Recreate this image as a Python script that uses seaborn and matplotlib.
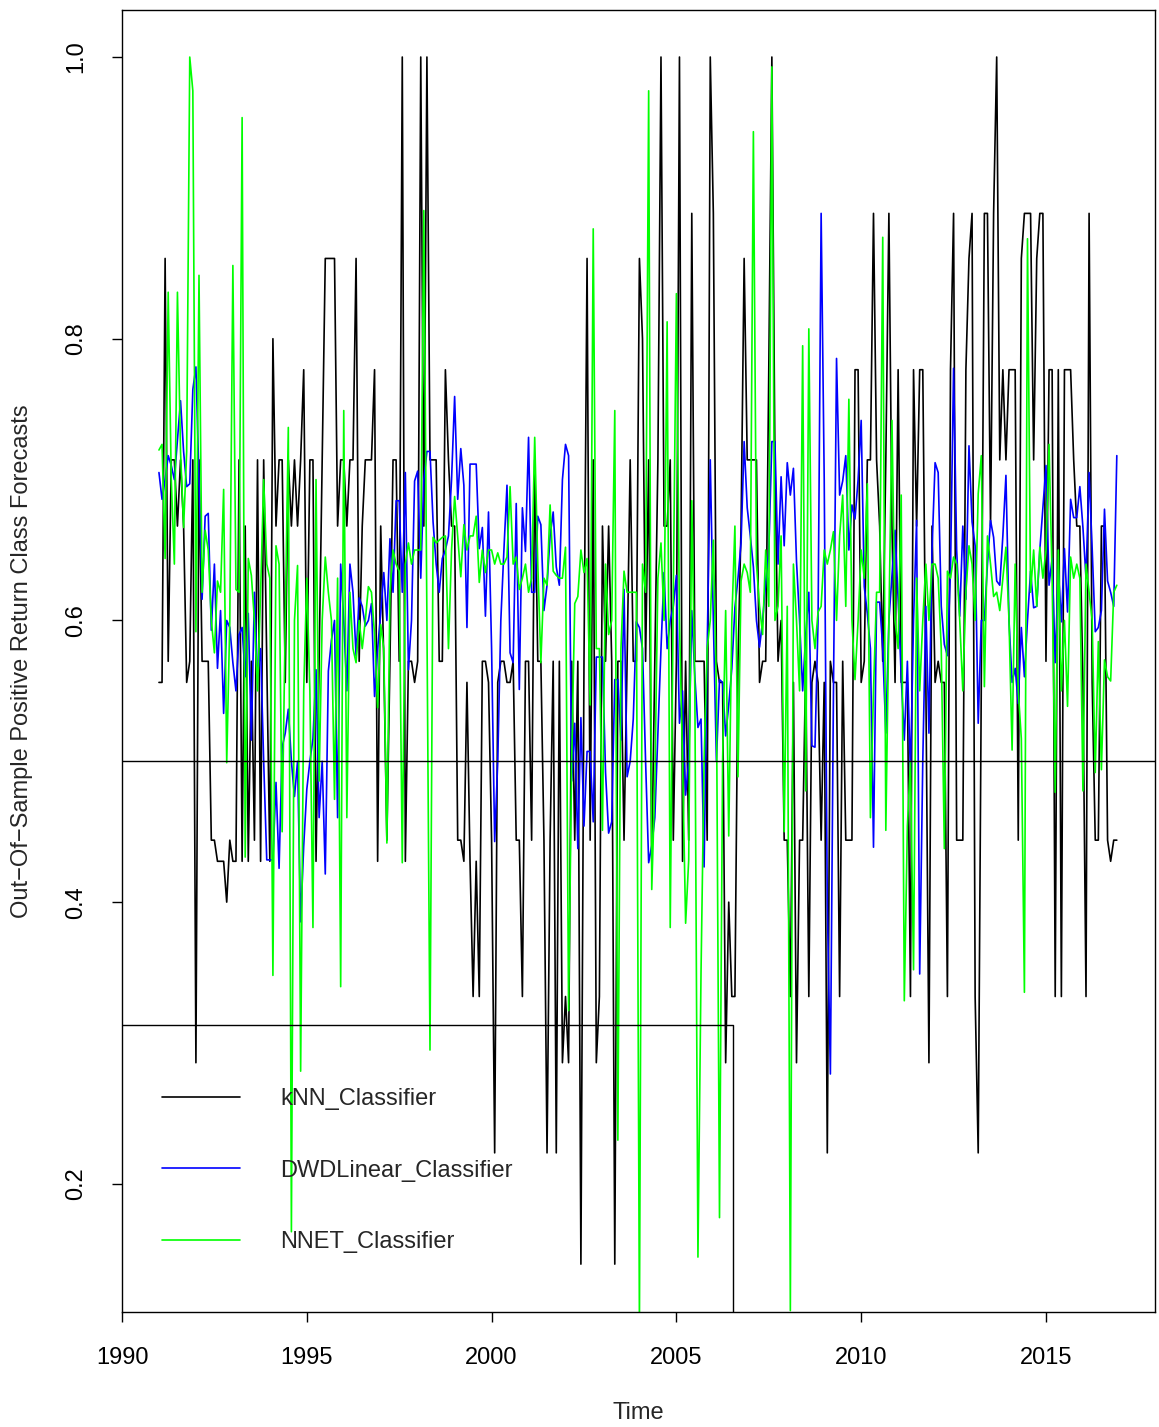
import numpy as np
import pandas as pd
import matplotlib
matplotlib.use("Agg")
import matplotlib.pyplot as plt
import seaborn as sns

# monthly out-of-sample forecasts, Jan 1991 .. Dec 2016 (one row per year)
knn = [
    0.556, 0.556, 0.857, 0.571, 0.714, 0.714, 0.667, 0.714, 0.667, 0.556, 0.571, 0.714,
    0.286, 0.714, 0.571, 0.571, 0.571, 0.444, 0.444, 0.429, 0.429, 0.429, 0.400, 0.444,
    0.429, 0.429, 0.714, 0.429, 0.667, 0.429, 0.571, 0.444, 0.714, 0.429, 0.714, 0.571,
    0.429, 0.800, 0.667, 0.714, 0.714, 0.556, 0.714, 0.667, 0.714, 0.667, 0.714, 0.778,
    0.556, 0.714, 0.714, 0.429, 0.571, 0.714, 0.857, 0.857, 0.857, 0.857, 0.667, 0.714,
    0.714, 0.667, 0.714, 0.714, 0.857, 0.571, 0.667, 0.714, 0.714, 0.714, 0.778, 0.429,
    0.667, 0.571, 0.444, 0.571, 0.714, 0.714, 0.571, 1.000, 0.429, 0.571, 0.571, 0.556,
    0.571, 1.000, 0.667, 1.000, 0.714, 0.714, 0.714, 0.571, 0.571, 0.778, 0.714, 0.667,
    0.667, 0.444, 0.444, 0.429, 0.556, 0.429, 0.333, 0.429, 0.333, 0.571, 0.571, 0.556,
    0.444, 0.222, 0.556, 0.571, 0.571, 0.556, 0.556, 0.571, 0.444, 0.444, 0.333, 0.571,
    0.571, 0.444, 0.714, 0.571, 0.571, 0.444, 0.222, 0.444, 0.571, 0.222, 0.571, 0.286,
    0.333, 0.286, 0.571, 0.444, 0.571, 0.143, 0.571, 0.857, 0.444, 0.714, 0.286, 0.333,
    0.667, 0.571, 0.667, 0.571, 0.143, 0.571, 0.571, 0.444, 0.571, 0.714, 0.571, 0.571,
    0.857, 0.800, 0.571, 0.714, 0.429, 0.571, 0.714, 1.000, 0.667, 0.667, 0.714, 0.444,
    0.571, 1.000, 0.429, 0.571, 0.444, 0.889, 0.571, 0.571, 0.571, 0.571, 0.444, 1.000,
    0.889, 0.571, 0.556, 0.556, 0.286, 0.400, 0.333, 0.333, 0.571, 0.667, 0.857, 0.714,
    0.714, 0.714, 0.714, 0.556, 0.571, 0.571, 0.778, 1.000, 0.714, 0.571, 0.600, 0.444,
    0.444, 0.333, 0.556, 0.286, 0.444, 0.444, 0.571, 0.333, 0.556, 0.571, 0.556, 0.444,
    0.556, 0.222, 0.571, 0.556, 0.556, 0.333, 0.571, 0.444, 0.444, 0.444, 0.778, 0.778,
    0.556, 0.571, 0.714, 0.714, 0.889, 0.714, 0.667, 0.571, 0.714, 0.889, 0.667, 0.556,
    0.778, 0.556, 0.556, 0.556, 0.333, 0.778, 0.667, 0.778, 0.778, 0.556, 0.286, 0.667,
    0.556, 0.571, 0.556, 0.556, 0.333, 0.778, 0.889, 0.444, 0.444, 0.444, 0.778, 0.857,
    0.889, 0.333, 0.222, 0.556, 0.889, 0.889, 0.667, 0.889, 1.000, 0.714, 0.778, 0.714,
    0.778, 0.778, 0.778, 0.444, 0.857, 0.889, 0.889, 0.889, 0.714, 0.857, 0.889, 0.889,
    0.571, 0.778, 0.778, 0.333, 0.778, 0.333, 0.778, 0.778, 0.778, 0.714, 0.667, 0.667,
    0.556, 0.333, 0.889, 0.556, 0.444, 0.444, 0.667, 0.667, 0.444, 0.429, 0.444, 0.444,
]

dwd = [
    0.705, 0.686, 0.700, 0.717, 0.710, 0.700, 0.728, 0.756, 0.720, 0.695, 0.697, 0.764,
    0.780, 0.700, 0.615, 0.674, 0.676, 0.593, 0.640, 0.566, 0.607, 0.534, 0.600, 0.595,
    0.570, 0.550, 0.590, 0.595, 0.560, 0.605, 0.515, 0.620, 0.560, 0.580, 0.500, 0.430,
    0.430, 0.430, 0.485, 0.424, 0.510, 0.520, 0.537, 0.500, 0.475, 0.500, 0.386, 0.440,
    0.480, 0.500, 0.516, 0.565, 0.460, 0.500, 0.420, 0.564, 0.586, 0.600, 0.460, 0.640,
    0.600, 0.550, 0.640, 0.620, 0.575, 0.616, 0.610, 0.596, 0.600, 0.612, 0.546, 0.580,
    0.605, 0.634, 0.600, 0.658, 0.620, 0.685, 0.685, 0.620, 0.705, 0.565, 0.600, 0.699,
    0.706, 0.630, 0.700, 0.720, 0.720, 0.670, 0.640, 0.620, 0.644, 0.650, 0.660, 0.700,
    0.759, 0.686, 0.722, 0.696, 0.595, 0.711, 0.711, 0.711, 0.651, 0.666, 0.603, 0.677,
    0.580, 0.443, 0.500, 0.600, 0.650, 0.696, 0.577, 0.570, 0.683, 0.551, 0.680, 0.649,
    0.730, 0.620, 0.620, 0.674, 0.668, 0.607, 0.625, 0.660, 0.677, 0.638, 0.625, 0.700,
    0.725, 0.717, 0.486, 0.527, 0.438, 0.531, 0.454, 0.507, 0.507, 0.457, 0.574, 0.574,
    0.574, 0.492, 0.449, 0.457, 0.558, 0.558, 0.515, 0.622, 0.489, 0.500, 0.530, 0.599,
    0.595, 0.580, 0.500, 0.428, 0.440, 0.460, 0.520, 0.580, 0.634, 0.580, 0.600, 0.610,
    0.632, 0.527, 0.550, 0.476, 0.500, 0.607, 0.560, 0.524, 0.530, 0.425, 0.580, 0.714,
    0.600, 0.500, 0.558, 0.556, 0.518, 0.540, 0.566, 0.609, 0.630, 0.655, 0.727, 0.680,
    0.660, 0.638, 0.600, 0.581, 0.600, 0.627, 0.649, 0.727, 0.727, 0.640, 0.702, 0.653,
    0.712, 0.689, 0.708, 0.642, 0.600, 0.550, 0.590, 0.620, 0.511, 0.510, 0.600, 0.889,
    0.700, 0.400, 0.278, 0.550, 0.786, 0.689, 0.699, 0.717, 0.650, 0.682, 0.672, 0.700,
    0.742, 0.624, 0.605, 0.580, 0.439, 0.613, 0.613, 0.580, 0.520, 0.600, 0.632, 0.664,
    0.615, 0.560, 0.515, 0.571, 0.490, 0.600, 0.671, 0.349, 0.500, 0.610, 0.520, 0.650,
    0.712, 0.705, 0.610, 0.583, 0.575, 0.635, 0.779, 0.650, 0.603, 0.667, 0.615, 0.724,
    0.670, 0.653, 0.527, 0.600, 0.600, 0.640, 0.671, 0.659, 0.628, 0.625, 0.660, 0.703,
    0.600, 0.556, 0.566, 0.541, 0.595, 0.560, 0.600, 0.635, 0.609, 0.610, 0.650, 0.680,
    0.710, 0.625, 0.644, 0.570, 0.636, 0.599, 0.651, 0.606, 0.686, 0.673, 0.673, 0.695,
    0.666, 0.630, 0.705, 0.651, 0.592, 0.595, 0.607, 0.679, 0.628, 0.620, 0.610, 0.717,
]

nnet = [
    0.721, 0.725, 0.644, 0.833, 0.700, 0.640, 0.833, 0.720, 0.666, 0.720, 1.000, 0.976,
    0.592, 0.845, 0.620, 0.664, 0.650, 0.600, 0.577, 0.628, 0.620, 0.693, 0.499, 0.600,
    0.852, 0.622, 0.620, 0.957, 0.432, 0.644, 0.632, 0.600, 0.550, 0.620, 0.700, 0.640,
    0.630, 0.348, 0.653, 0.640, 0.450, 0.600, 0.737, 0.166, 0.600, 0.639, 0.280, 0.550,
    0.630, 0.550, 0.382, 0.700, 0.486, 0.600, 0.645, 0.620, 0.600, 0.473, 0.630, 0.340,
    0.749, 0.460, 0.620, 0.580, 0.570, 0.600, 0.580, 0.600, 0.624, 0.620, 0.590, 0.538,
    0.597, 0.580, 0.442, 0.620, 0.650, 0.640, 0.635, 0.428, 0.640, 0.655, 0.640, 0.650,
    0.650, 0.650, 0.891, 0.600, 0.295, 0.659, 0.655, 0.657, 0.659, 0.660, 0.580, 0.650,
    0.688, 0.660, 0.631, 0.668, 0.650, 0.660, 0.660, 0.674, 0.627, 0.650, 0.634, 0.650,
    0.650, 0.640, 0.648, 0.640, 0.640, 0.645, 0.695, 0.640, 0.645, 0.622, 0.630, 0.640,
    0.620, 0.630, 0.730, 0.640, 0.570, 0.630, 0.625, 0.682, 0.635, 0.632, 0.630, 0.630,
    0.652, 0.323, 0.500, 0.612, 0.617, 0.650, 0.634, 0.644, 0.540, 0.878, 0.580, 0.580,
    0.451, 0.640, 0.590, 0.600, 0.749, 0.231, 0.580, 0.635, 0.620, 0.620, 0.620, 0.620,
    0.100, 0.640, 0.620, 0.976, 0.409, 0.483, 0.630, 0.655, 0.600, 0.812, 0.382, 0.620,
    0.832, 0.600, 0.500, 0.385, 0.430, 0.685, 0.550, 0.148, 0.350, 0.500, 0.580, 0.600,
    0.657, 0.550, 0.176, 0.500, 0.607, 0.447, 0.600, 0.667, 0.489, 0.628, 0.640, 0.634,
    0.620, 0.947, 0.640, 0.610, 0.590, 0.650, 0.610, 0.993, 0.600, 0.610, 0.660, 0.450,
    0.610, 0.110, 0.640, 0.600, 0.550, 0.795, 0.479, 0.807, 0.600, 0.580, 0.606, 0.610,
    0.650, 0.640, 0.650, 0.663, 0.600, 0.660, 0.689, 0.610, 0.757, 0.600, 0.558, 0.600,
    0.650, 0.630, 0.697, 0.460, 0.550, 0.620, 0.620, 0.872, 0.451, 0.600, 0.742, 0.600,
    0.580, 0.689, 0.330, 0.454, 0.500, 0.352, 0.630, 0.550, 0.600, 0.640, 0.600, 0.640,
    0.640, 0.630, 0.580, 0.438, 0.635, 0.630, 0.645, 0.640, 0.600, 0.550, 0.620, 0.653,
    0.640, 0.600, 0.690, 0.717, 0.553, 0.660, 0.640, 0.617, 0.620, 0.607, 0.630, 0.652,
    0.600, 0.508, 0.640, 0.550, 0.516, 0.336, 0.871, 0.620, 0.650, 0.610, 0.652, 0.630,
    0.650, 0.725, 0.630, 0.478, 0.650, 0.550, 0.600, 0.539, 0.645, 0.630, 0.640, 0.630,
    0.479, 0.640, 0.620, 0.600, 0.492, 0.585, 0.494, 0.572, 0.560, 0.557, 0.620, 0.625,
]

series_names = ["kNN_Classifier", "DWDLinear_Classifier", "NNET_Classifier"]
series_colors = ["black", "blue", "#00ff00"]

# stray segment left in the kNN series (drawn as it appears)
gap_x = [1985.0, 2006.53, 2006.53]
gap_y = [0.3125, 0.3125, -1.0]

start_year = 1991
time = start_year + np.arange(len(knn)) / 12

df = pd.concat([
    pd.DataFrame({"Time": time, "value": vals, "model": name})
    for name, vals in zip(series_names, [knn, dwd, nnet])
])

sns.set_theme(style="ticks")
plt.rcParams["font.family"] = ["Liberation Sans", "DejaVu Sans"]
fs = 17

fig = plt.figure(figsize=(11.59, 14.27), dpi=100)
ax = fig.add_axes([122 / 1159, 115 / 1427, 1033 / 1159, 1302 / 1427])

sns.lineplot(data=df, x="Time", y="value", hue="model", hue_order=series_names,
             palette=series_colors, estimator=None, sort=False, linewidth=1.2,
             legend=False, ax=ax)

ax.plot(gap_x, gap_y, color="black", linewidth=1.0)
ax.axhline(0.5, color="black", linewidth=1.0)

ax.set_xlim(1990, 2017.95)
ax.set_ylim(0.109, 1.0334)
ax.set_xticks([1990, 1995, 2000, 2005, 2010, 2015])
ax.set_yticks([0.2, 0.4, 0.6, 0.8, 1.0])
ax.set_yticklabels(["0.2", "0.4", "0.6", "0.8", "1.0"])

for side in ["top", "right", "left", "bottom"]:
    ax.spines[side].set_visible(True)
    ax.spines[side].set_linewidth(1.0)
    ax.spines[side].set_color("black")

ax.tick_params(axis="both", direction="out", length=7, width=1.0,
               labelsize=fs, colors="black", pad=18)
for lab in ax.get_yticklabels():
    lab.set_rotation(90)
    lab.set_va("center")

ax.set_xlabel("Time", fontsize=fs)
ax.set_ylabel("Out\u2212Of\u2212Sample Positive Return Class Forecasts", fontsize=fs)
ax.xaxis.set_label_coords(0.5, -0.069)
ax.yaxis.set_label_coords(-0.086, 0.5)

handles = [plt.Line2D([], [], color=c, linewidth=1.2) for c in series_colors]
ax.legend(handles, series_names, loc="upper left", bbox_to_anchor=(0.0387, 0.172),
          frameon=False, fontsize=fs, handlelength=3.3, handletextpad=1.7,
          labelspacing=2.1, borderpad=0, borderaxespad=0)

fig.savefig("out.png", dpi=100)
